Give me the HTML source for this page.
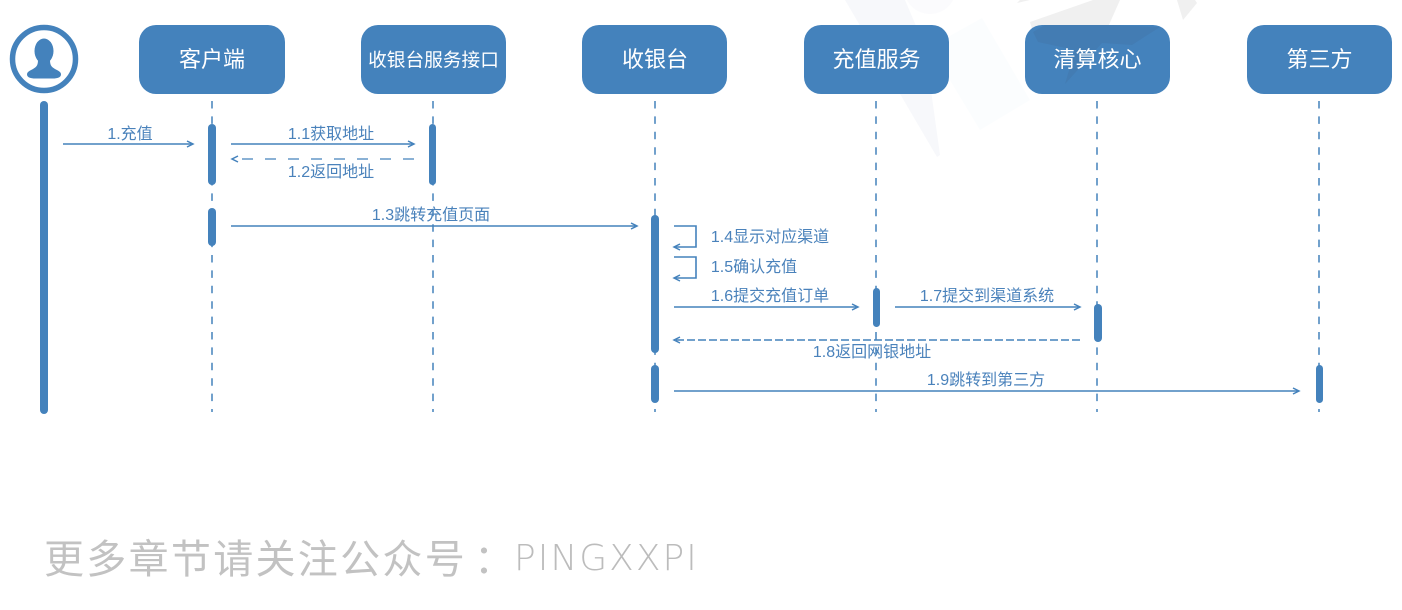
<!DOCTYPE html>
<html><head><meta charset="utf-8"><style>
html,body{margin:0;padding:0;background:#fff}
svg{display:block}
text{font-family:"Liberation Sans","Noto Sans CJK SC",sans-serif}
.t{fill:#fff;font-size:22px;text-anchor:middle}
.l{fill:#4a82bb;font-size:16px;text-anchor:middle}
.b{fill:#4482bc}
.ll{stroke:#4482bc;stroke-width:1.5;stroke-dasharray:7.500 7.900;fill:none}
.m{stroke:#4482bc;stroke-width:1.6;fill:none}
.h{stroke:#4482bc;stroke-width:1.5;fill:none}
</style></head><body>
<svg width="1402" height="610" viewBox="0 0 1402 610" xmlns="http://www.w3.org/2000/svg">
<!-- watermark -->
<polygon points="845,0 905,0 925,47 940,155 937,157" fill="#f7f8fb"/>
<circle cx="930" cy="-12" r="26" fill="#fbfbfd"/>
<polygon points="982,18 1030,100 980,130 930,47" fill="#fbfdfe"/>
<polygon points="1030,22 1093,0 1120,0 1108,27 1033,32" fill="#f0f0f0"/>
<polygon points="1017,3 1030,0 1020,0" fill="#f0f0f0"/>
<polygon points="1177,0 1195,0 1197,3 1183,20" fill="#f0f0f0"/>
<!-- boxes -->
<rect class="b" x="139" y="25" width="146" height="69" rx="17"/>
<rect class="b" x="361" y="25" width="145" height="69" rx="17"/>
<rect class="b" x="582" y="25" width="145" height="69" rx="17"/>
<rect class="b" x="804" y="25" width="145" height="69" rx="17"/>
<rect class="b" x="1025" y="25" width="145" height="69" rx="17"/>
<rect class="b" x="1247" y="25" width="145" height="69" rx="17"/>
<polygon points="1033,32 1045,25 1110,25 1160,27 1132,45 1102,43 1065,84 1075,50 1038,42" fill="rgba(60,60,70,.07)"/>
<text class="t" x="212" y="67">客户端</text>
<text class="t" x="433.500" y="66.500" style="font-size:18.700px">收银台服务接口</text>
<text class="t" x="655" y="67">收银台</text>
<text class="t" x="876.500" y="67">充值服务</text>
<text class="t" x="1097.500" y="67">清算核心</text>
<text class="t" x="1319.500" y="67">第三方</text>
<!-- actor -->
<circle cx="44" cy="59" r="31.500" fill="none" stroke="#4482bc" stroke-width="5.500"/>
<ellipse cx="44" cy="51" rx="9.500" ry="12.500" class="b"/>
<path class="b" d="M38 60 C38 66 36 67 33 69 C29 71 27 72 27 74.500 C27 77.500 31 78.500 35 78.500 L53 78.500 C57 78.500 61 77.500 61 74.500 C61 72 59 71 55 69 C52 67 50 66 50 60 Z"/>
<!-- lifelines -->
<line class="ll" x1="212" y1="101" x2="212" y2="412"/>
<line class="ll" x1="433" y1="101" x2="433" y2="412"/>
<line class="ll" x1="655" y1="101" x2="655" y2="412"/>
<line class="ll" x1="876" y1="101" x2="876" y2="412"/>
<line class="ll" x1="1097" y1="101" x2="1097" y2="412"/>
<line class="ll" x1="1319" y1="101" x2="1319" y2="412"/>
<!-- activations -->
<rect class="b" x="40" y="101" width="8" height="313" rx="4"/>
<rect class="b" x="208" y="124" width="8" height="61" rx="4"/>
<rect class="b" x="208" y="208" width="8" height="38" rx="4"/>
<rect class="b" x="429" y="124" width="7" height="61" rx="3.500"/>
<rect class="b" x="651" y="215" width="8" height="138" rx="4"/>
<rect class="b" x="651" y="365" width="8" height="38" rx="4"/>
<rect class="b" x="873" y="288" width="7" height="39" rx="3.500"/>
<rect class="b" x="1094" y="304" width="8" height="38" rx="4"/>
<rect class="b" x="1316" y="365" width="7" height="38" rx="3.500"/>
<!-- messages -->
<line class="m" x1="63" y1="144" x2="192" y2="144"/>
<path class="h" d="M187 141 L193 144 L187 147"/>
<line class="m" x1="231" y1="144" x2="413" y2="144"/>
<path class="h" d="M408 141 L414 144 L408 147"/>
<line class="m" x1="414" y1="159" x2="234" y2="159" stroke-dasharray="11 12" style="stroke-width:1.300"/>
<path class="h" d="M238 156 L232 159 L238 162"/>
<line class="m" x1="231" y1="226" x2="636" y2="226"/>
<path class="h" d="M631 223 L637 226 L631 229"/>
<path class="m" d="M674 226 H696 V247 H675"/>
<path class="h" d="M680 244 L674 247 L680 250"/>
<path class="m" d="M674 257 H696 V278 H675"/>
<path class="h" d="M680 275 L674 278 L680 281"/>
<line class="m" x1="674" y1="307" x2="857" y2="307"/>
<path class="h" d="M852 304 L858 307 L852 310"/>
<line class="m" x1="895" y1="307" x2="1079" y2="307"/>
<path class="h" d="M1074 304 L1080 307 L1074 310"/>
<line class="m" x1="1080" y1="340" x2="676" y2="340" stroke-dasharray="8 3"/>
<path class="h" d="M680 337 L674 340 L680 343"/>
<line class="m" x1="674" y1="391" x2="1298" y2="391"/>
<path class="h" d="M1293 388 L1299 391 L1293 394"/>
<!-- labels -->
<text class="l" x="130" y="139">1.充值</text>
<text class="l" x="331" y="139">1.1获取地址</text>
<text class="l" x="331" y="177">1.2返回地址</text>
<text class="l" x="431" y="220">1.3跳转充值页面</text>
<text class="l" x="770" y="242">1.4显示对应渠道</text>
<text class="l" x="754" y="272">1.5确认充值</text>
<text class="l" x="770" y="301">1.6提交充值订单</text>
<text class="l" x="987" y="301">1.7提交到渠道系统</text>
<text class="l" x="872" y="357">1.8返回网银地址</text>
<text class="l" x="986" y="385">1.9跳转到第三方</text>
<!-- footer -->
<text x="44" y="573" style="font-size:40px;letter-spacing:2.300px;fill:#c2c2c2">更多章节请关注公众号</text>
<text x="474" y="573" style="font-size:40px;fill:#c2c2c2">：</text>
<text x="514" y="570" style="font-size:36px;letter-spacing:2px;fill:#bcbcbc;font-family:'DejaVu Sans','Liberation Sans',sans-serif;font-weight:200">PINGXXPI</text>
</svg>
</body></html>
